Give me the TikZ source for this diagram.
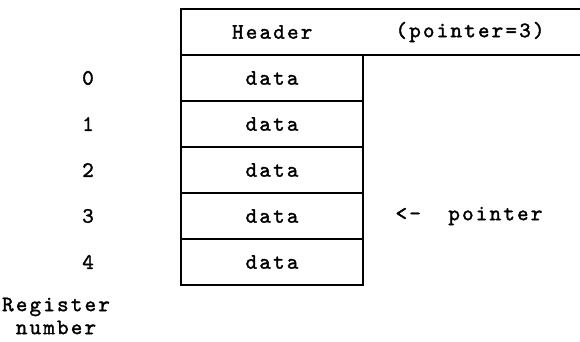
\documentclass[tikz,border=0pt]{standalone}
\usepackage{fontspec}
\setmonofont[LetterSpace=10, FakeBold=1.6]{lmmono10-regular.otf}
\usetikzlibrary{positioning}

\tikzset{
  cell/.style={rectangle, draw, line width=1.1pt, outer sep=0pt, inner sep=0pt,
    minimum width=182pt, minimum height=46pt}
}

\begin{document}
\begin{tikzpicture}[x=1pt, y=1pt, font=\fontsize{22}{23}\selectfont\ttfamily]
 \useasboundingbox (0,0) rectangle (580,-342);

 %%%  nodes

 % header row
 \node [rectangle, outer sep=0pt, inner sep=0pt, minimum width=399pt, minimum height=46pt, anchor=north west] (hdr) at (181,-9) {};
 \node [minimum width=182pt, anchor=west, inner sep=0pt] (htxt) at (hdr.west) {Header};
 \node (hptr) at (470,-32) {(pointer=3)};

 % register cells
 \node [cell, anchor=north west] (r0) at (hdr.south west) {data};
 \foreach \i [count=\j from 0] in {1,...,4}
   \node [cell, below=0pt of r\j] (r\i) {data};

 % register numbers
 \coordinate (numcol) at (88,0);
 \foreach \i in {0,...,4}
   \node (n\i) at (r\i -| numcol) {\i};
 \node [align=center] (reglbl) at (56,-316) {Register\\number};

 % pointer mark
 \node [right=29pt of r3] (ptr) {<-\ \ pointer};

 \draw [line width=1.1pt] (hdr.north east) -- (hdr.north west) -- (hdr.south west) -- (hdr.south east);

\end{tikzpicture}
\end{document}
